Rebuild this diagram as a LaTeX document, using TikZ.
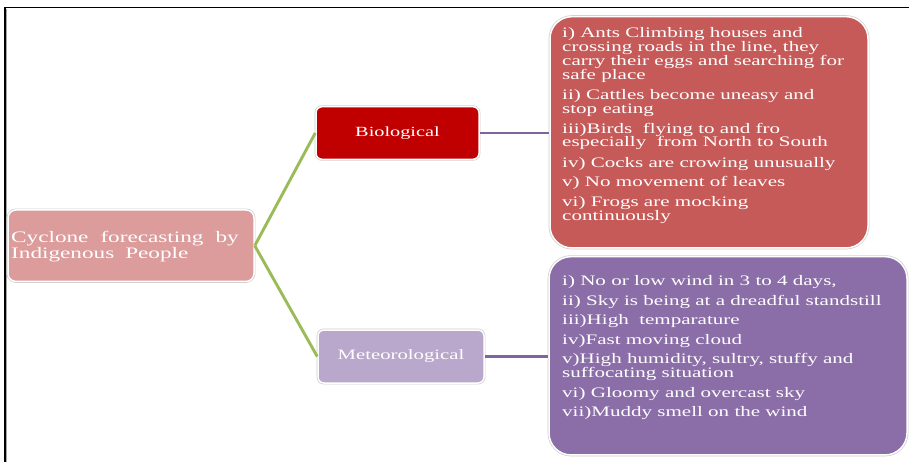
\documentclass[tikz,border=0pt]{standalone}
\usepackage{fontspec}
\setmainfont{Liberation Serif}[FakeStretch=1.45]
\definecolor{rootfill}{HTML}{DC9C9C}
\definecolor{biofill}{HTML}{C00000}
\definecolor{metfill}{HTML}{B9A8CC}
\definecolor{blfill}{HTML}{C55A58}
\definecolor{mlfill}{HTML}{8B6DA8}
\definecolor{conngreen}{HTML}{9BBB59}
\definecolor{connpurple}{HTML}{8064A2}
\begin{document}
\begin{tikzpicture}[x=1pt,y=-1pt,
  box/.style={preaction={draw=black!20,line width=2.8pt}, draw=white, line width=1.5pt,
    inner sep=0pt, text=white},
  greenline/.style={draw=conngreen, line width=2.9pt},
  purpleline/.style={draw=connpurple, line width=2.7pt},
  listtext/.style={anchor=base west, inner sep=0pt, text=white,
    font=\fontsize{14.5}{14.5}\selectfont},
  roottext/.style={anchor=base west, inner sep=0pt, text=white,
    font=\fontsize{16}{16}\selectfont}]
\useasboundingbox (0,0) rectangle (909,462);
\fill[white] (0,0) rectangle (909,462);
% frame
\draw[black!35, line width=1pt] (6.8,9) -- (6.8,462);
\draw[black, line width=1.5pt] (909,7.5) -- (5,7.5) -- (5,462);
% boxes
\node[box, fill=rootfill, rounded corners=8pt, minimum width=246pt, minimum height=71.5pt]
  (root) at (131,245.7) {};
\node[box, fill=biofill, rounded corners=6pt, minimum width=163pt, minimum height=52.6pt,
  font=\fontsize{14}{14}\selectfont]
  (bio) at (397.5,133) {Biological};
\node[box, fill=metfill, rounded corners=6pt, minimum width=166pt, minimum height=53pt,
  font=\fontsize{14.3}{14.3}\selectfont]
  (met) at (401,356.5) {Meteorological};
\node[box, fill=blfill, rounded corners=22pt, minimum width=318pt, minimum height=231.3pt]
  (bl) at (709,132.3) {};
\node[box, fill=mlfill, rounded corners=22pt, minimum width=358pt, minimum height=198.3pt]
  (ml) at (728,355.8) {};
% connectors
\draw[greenline] (root.east) -- (bio.west);
\draw[greenline] (root.east) -- (met.west);
\draw[purpleline] (bio.east) -- (bio.east -| bl.west);
\draw[purpleline] (met.east) -- (met.east -| ml.west);
% root text
\node[roottext] (rt1) at (11,242.7) {Cyclone\hspace{12pt}forecasting\hspace{12pt}by};
\node[roottext] (rt2) at (11,258.3) {Indigenous\hspace{11pt}People};
% biological list
\foreach \y/\t [count=\i] in {
  37.3/{i) Ants Climbing houses and},
  51.5/{crossing roads in the line, they},
  65.5/{carry their eggs and searching for},
  79.3/{safe place},
  100/{ii) Cattles become uneasy and},
  113.5/{stop eating},
  133.3/{iii)Birds\ \ flying to and fro},
  147/{especially\ \ from North to South},
  167.3/{iv) Cocks are crowing unusually},
  186.7/{v) No movement of leaves},
  206.7/{vi) Frogs are mocking},
  220.3/{continuously}}
  \node[listtext] (b\i) at (562,\y) {\t};
% meteorological list
\foreach \y/\t [count=\i] in {
  285/{i) No or low wind in 3 to 4 days,},
  305/{ii) Sky is being at a dreadful standstill},
  324.3/{iii)High\ \ temparature},
  344/{iv)Fast moving cloud},
  363.3/{v)High humidity, sultry, stuffy and},
  377.3/{suffocating situation},
  397.3/{vi) Gloomy and overcast sky},
  416.7/{vii)Muddy smell on the wind}}
  \node[listtext] (m\i) at (562,\y) {\t};
\end{tikzpicture}
\end{document}
